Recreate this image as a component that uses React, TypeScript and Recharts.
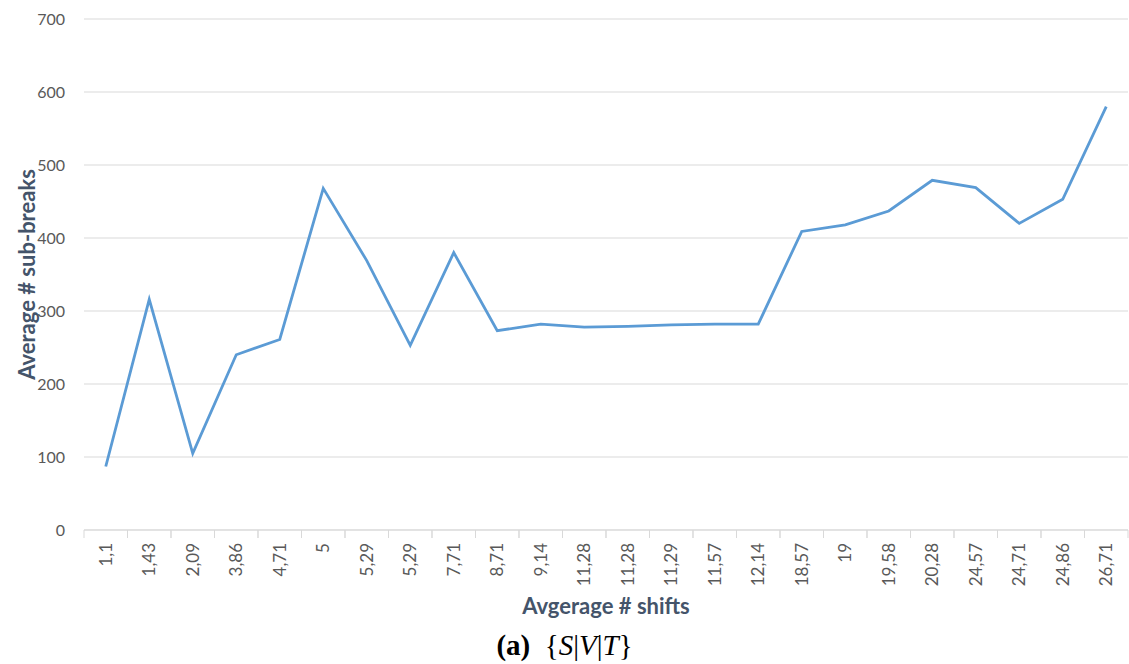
import React from 'react';
import { LineChart, Line, XAxis, YAxis, CartesianGrid } from 'recharts';

const shifts = [
  '1,1', '1,43', '2,09', '3,86', '4,71', '5', '5,29', '5,29', '7,71', '8,71', '9,14', '11,28',
  '11,28', '11,29', '11,57', '12,14', '18,57', '19', '19,58', '20,28', '24,57', '24,71', '24,86', '26,71',
];
const subBreaks = [
  87, 316, 105, 240, 261, 468, 369, 253, 380, 273, 282, 278,
  279, 281, 282, 282, 409, 418, 437, 479, 469, 420, 453, 580,
];
const yTicks = [0, 100, 200, 300, 400, 500, 600, 700];

const W = 1129;
const H = 664;
const PLOT_LEFT = 84;
const PLOT_RIGHT = 1;
const BAND = (W - PLOT_LEFT - PLOT_RIGHT) / shifts.length;
const FONT = 'Lato, "Open Sans", sans-serif';

const data = shifts.map((s, i) => ({ idx: i, label: s, value: subBreaks[i] }));

const XTick = (props: any) => {
  const { x, y, payload } = props;
  const axisY = y - 13;
  return (
    <g>
      <line x1={x - BAND / 2} x2={x - BAND / 2} y1={axisY} y2={axisY + 8} stroke="#d9d9d9" />
      <line x1={x + BAND / 2} x2={x + BAND / 2} y1={axisY} y2={axisY + 8} stroke="#d9d9d9" />
      <text
        x={x}
        y={y}
        transform={`rotate(-90, ${x}, ${y})`}
        textAnchor="end"
        dy="0.35em"
        fill="#595959"
        fontSize={17}
        fontFamily={FONT}
      >
        {shifts[payload.value]}
      </text>
    </g>
  );
};

const App: React.FC = () => {
  return (
    <div style={{ position: 'absolute', left: 0, top: 0, width: W, height: H, background: '#fff' }}>
      <LineChart width={W} height={H} data={data} margin={{ top: 19, right: PLOT_RIGHT, bottom: 0, left: 0 }}>
        <CartesianGrid vertical={false} stroke="#d9d9d9" />
        <XAxis
          dataKey="idx"
          type="category"
          height={134}
          interval={0}
          padding={{ left: BAND / 2, right: BAND / 2 }}
          stroke="#d9d9d9"
          tickLine={false}
          tickSize={0}
          tickMargin={13}
          tick={<XTick />}
          label={{
            value: 'Avgerage # shifts',
            position: 'insideBottom',
            offset: 50,
            style: { fill: '#44546a', fontSize: 22, fontWeight: 700, fontFamily: FONT },
          }}
        />
        <YAxis
          width={PLOT_LEFT}
          domain={[0, 700]}
          ticks={yTicks}
          axisLine={false}
          tickLine={false}
          tickSize={0}
          tickMargin={19}
          tick={{ fill: '#595959', fontSize: 16, fontFamily: FONT }}
          label={{
            value: 'Average # sub-breaks',
            angle: -90,
            position: 'insideLeft',
            offset: 27,
            style: { textAnchor: 'middle', fill: '#44546a', fontSize: 22, fontWeight: 700, fontFamily: FONT },
          }}
        />
        <Line
          type="linear"
          dataKey="value"
          stroke="#5b9bd5"
          strokeWidth={2.8}
          dot={false}
          isAnimationActive={false}
        />
      </LineChart>
      <div
        style={{
          position: 'absolute',
          left: 0,
          width: W,
          top: 628,
          textAlign: 'center',
          fontFamily: '"Liberation Serif", "DejaVu Serif", serif',
          fontSize: 29,
          lineHeight: '34px',
          color: '#000',
        }}
      >
        <b>(a)</b>&nbsp;&nbsp;{'{'}<i>S</i>|<i>V</i>|<i>T</i>{'}'}
      </div>
    </div>
  );
};

export default App;
